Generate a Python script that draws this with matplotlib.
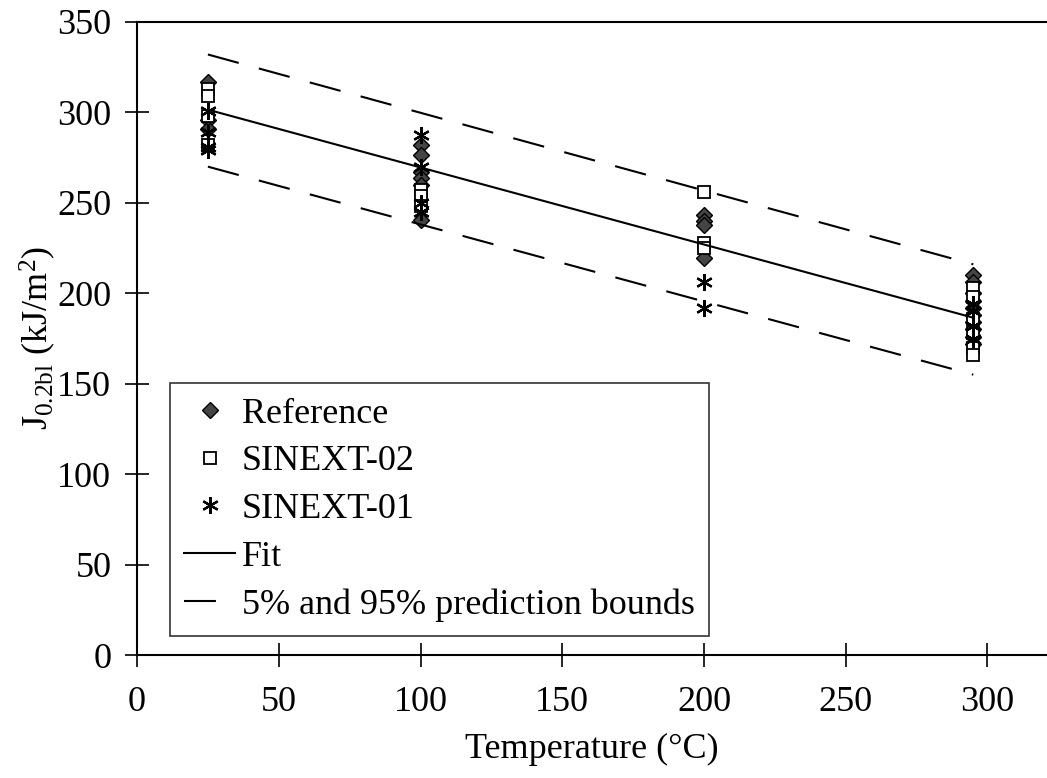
import matplotlib
matplotlib.use("Agg")
import matplotlib.pyplot as plt

plt.rcParams["font.family"] = ["Liberation Serif", "DejaVu Serif"]
plt.rcParams["mathtext.fontset"] = "custom"
plt.rcParams["mathtext.rm"] = "Liberation Serif"
plt.rcParams["mathtext.it"] = "Liberation Serif:italic"
plt.rcParams["lines.scale_dashes"] = False

# Data
ref_x = [25, 25, 25,
         100, 100, 100, 100, 100, 100,
         200, 200, 200, 200,
         295, 295, 295, 295, 295, 295, 295, 295, 295, 295]
ref_y = [317, 296, 291,
         282, 276.5, 267, 264, 260, 240.5,
         243, 240, 238, 219.5,
         210, 206, 200, 196, 192, 188, 184, 180, 176, 172]

s02_x = [25, 25, 25, 25,
         100, 100, 100,
         200, 200, 200,
         295, 295, 295, 295, 295, 295]
s02_y = [313, 309, 298, 282,
         257, 254, 248,
         256, 228, 225,
         203, 198, 186, 178, 170, 166]

s01_x = [25, 25, 25, 25,
         100, 100, 100, 100,
         200, 200,
         295, 295, 295, 295]
s01_y = [301, 289, 281, 279,
         287.5, 270, 250, 245,
         206, 192,
         194, 190, 182, 175]

fit_x = [25, 295]
fit_y = [301.5, 186.5]
upper_y = [332, 216]
lower_y = [270, 155]

fig = plt.figure(figsize=(10.47, 7.78), dpi=100)
ax = fig.add_axes([0.1309, 0.158, 0.8691, 0.8138])

ax.plot(ref_x, ref_y, linestyle="none", marker="D", markersize=8,
        markerfacecolor="#444444", markeredgecolor="black", markeredgewidth=1,
        label="Reference")
ax.plot(s02_x, s02_y, linestyle="none", marker="s", markersize=8.5,
        markerfacecolor="white", markeredgecolor="black", markeredgewidth=1.3,
        label="SINEXT-02")
ax.plot(s01_x, s01_y, linestyle="none", marker=(6, 2, 0), markersize=12,
        markeredgecolor="black", markeredgewidth=1.6, color="black",
        label="SINEXT-01")
ax.plot(fit_x, fit_y, color="black", linewidth=1.5, label="Fit")
ax.plot(fit_x, upper_y, color="black", linewidth=1.5, dashes=(23, 15),
        label="5% and 95% prediction bounds")
ax.plot(fit_x, lower_y, color="black", linewidth=1.5, dashes=(23, 15))

ax.set_xlim(0, 321)
ax.set_ylim(0, 350)
ax.set_xticks(range(0, 301, 50))
ax.set_yticks(range(0, 351, 50))
ax.tick_params(direction="inout", length=17, width=1.2, labelsize=26)
ax.tick_params(axis="x", pad=14)
ax.tick_params(axis="y", pad=10)
ax.spines["right"].set_visible(False)
for s in ["left", "top", "bottom"]:
    ax.spines[s].set_linewidth(1.5)

ax.set_xlabel("Temperature (°C)", fontsize=26, labelpad=10)
ax.set_ylabel(r"J$_{\mathrm{0.2bl}}$ (kJ/m$^2$)", fontsize=26)
ax.yaxis.set_label_coords(-0.087, 0.5)

leg = ax.legend(loc="lower left", bbox_to_anchor=(0.036, 0.03), fontsize=26,
                frameon=True, fancybox=False, edgecolor="black",
                handlelength=1.4, handletextpad=0.2, labelspacing=0.4,
                borderpad=0.4, borderaxespad=0)
leg.get_frame().set_linewidth(1.2)

fig.savefig("out.png", dpi=100)
